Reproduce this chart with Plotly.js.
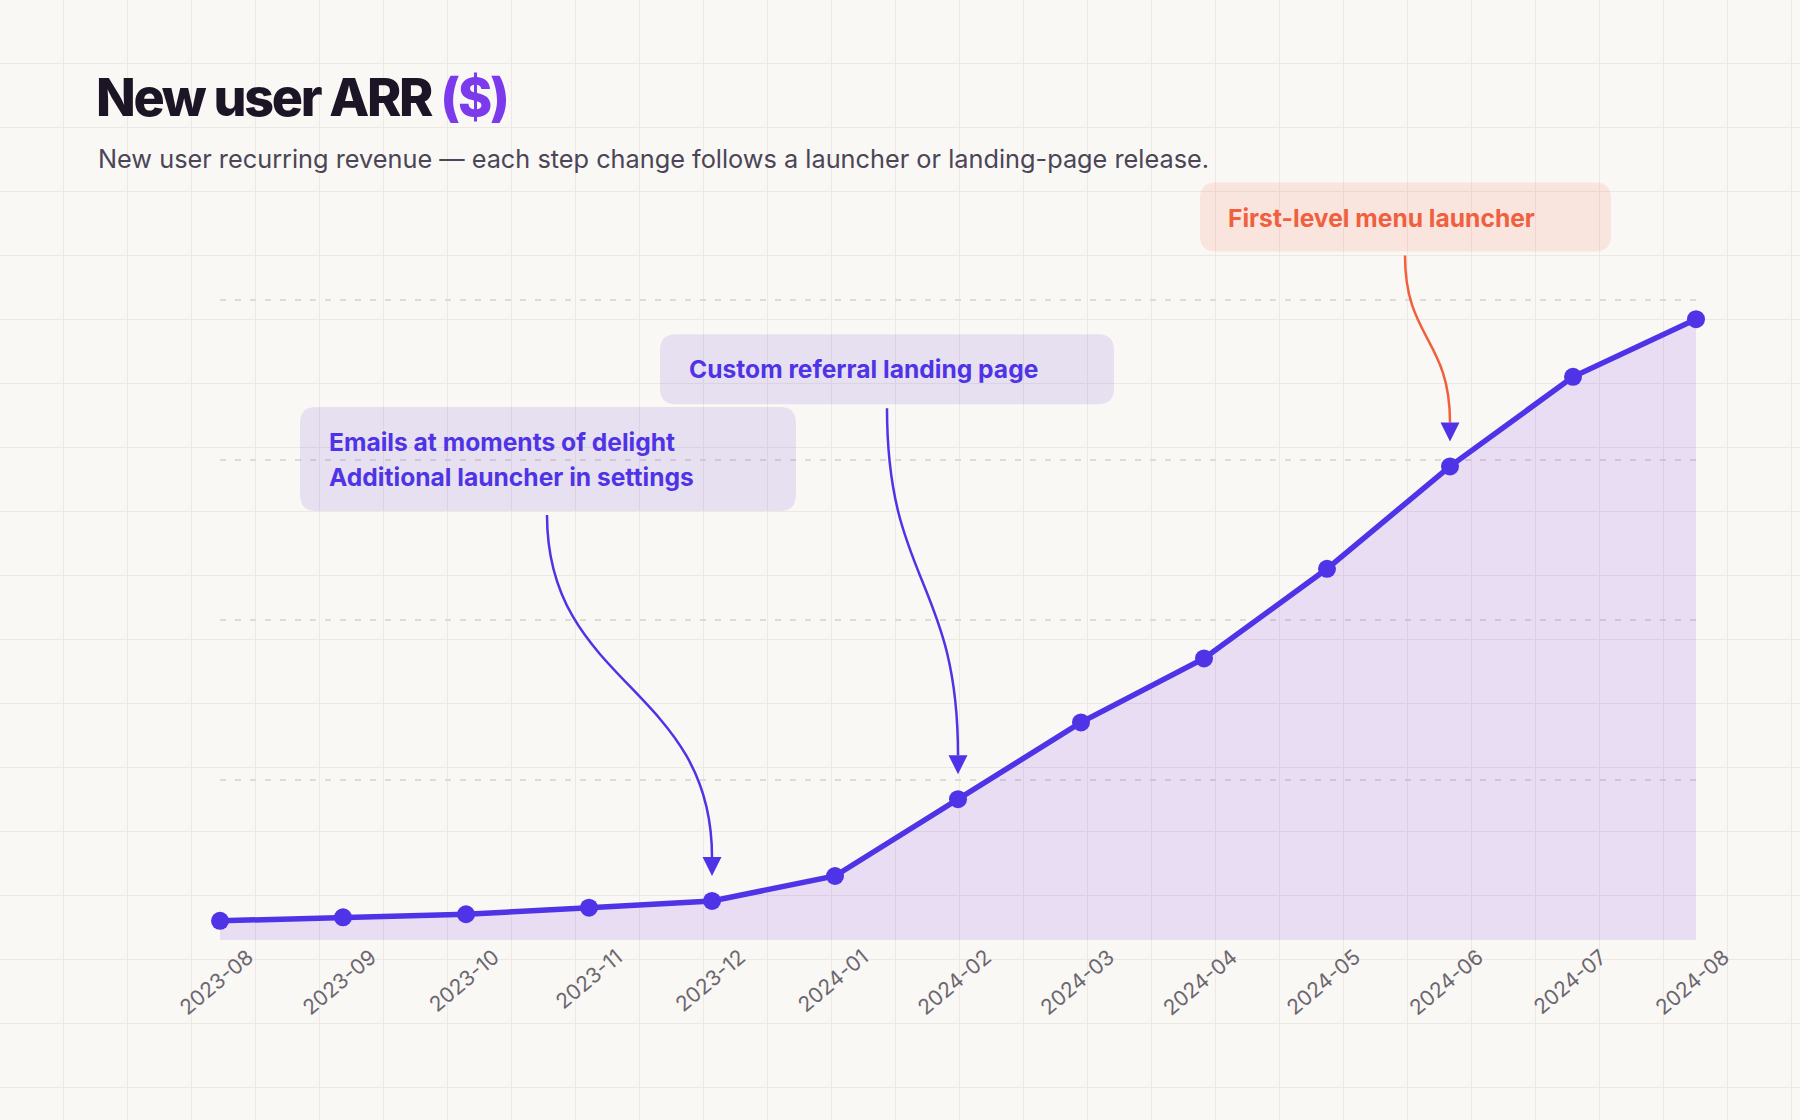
<!DOCTYPE html>
<html>
<head>
<meta charset="utf-8">
<script src="https://cdn.plot.ly/plotly-3.0.1.min.js"></script>
<style>
    html, body { margin: 0; padding: 0; }
    body {
        width: 1800px;
        height: 1120px;
        overflow: hidden;
        background-color: #faf8f4;
        background-image:
            linear-gradient(to right, transparent 63px, #ece8e3 63px),
            linear-gradient(to bottom, transparent 63px, #ece8e3 63px);
        background-size: 64px 64px;
    }
    #chart { width: 1800px; height: 1120px; }
</style>
</head>
<body>
<div id="chart"></div>
<script>
// monthly new user ARR ($)
const months = ['2023-08', '2023-09', '2023-10', '2023-11', '2023-12', '2024-01', '2024-02',
                '2024-03', '2024-04', '2024-05', '2024-06', '2024-07', '2024-08'];
const arr = [12000, 14200, 16100, 20200, 24400, 40000, 88000, 136000, 176000, 232000, 296000, 352000, 388000];

// release callouts: which month each points at, and its text
const calloutMonths = ['2023-12', '2024-02', '2024-06'];
const calloutLines = [
    ['Emails at moments of delight', 'Additional launcher in settings'],
    ['Custom referral landing page'],
    ['First-level menu launcher']
];

const INDIGO = '#4f33e6';
const CORAL = '#f0603f';

// geometry of each callout, in pixels relative to the target point (y up)
const calloutStyle = [
    { box: [-412, 84, 390, 494], textX: -385, lineY: [459, 424], start: [-165, 386],
      fill: 'rgba(95,60,225,0.12)', text: INDIGO, stroke: INDIGO },
    { box: [-298, 156, 395, 465], textX: -271, lineY: [430], start: [-71, 391],
      fill: 'rgba(95,60,225,0.12)', text: INDIGO, stroke: INDIGO },
    { box: [-250, 161, 215, 284], textX: -224, lineY: [248], start: [-45, 211],
      fill: 'rgba(245,100,70,0.13)', text: CORAL, stroke: CORAL }
];

function roundRect(x0, x1, yb, yt, r) {
    return `M ${x0 + r} ${yt} L ${x1 - r} ${yt} Q ${x1} ${yt} ${x1} ${yt - r} ` +
           `L ${x1} ${yb + r} Q ${x1} ${yb} ${x1 - r} ${yb} L ${x0 + r} ${yb} ` +
           `Q ${x0} ${yb} ${x0} ${yb + r} L ${x0} ${yt - r} Q ${x0} ${yt} ${x0 + r} ${yt} Z`;
}

function anchored(month, value, path, extra) {
    return Object.assign({
        type: 'path', xref: 'x', yref: 'y',
        xsizemode: 'pixel', ysizemode: 'pixel',
        xanchor: month, yanchor: value,
        path: path, layer: 'above'
    }, extra);
}

const shapes = [];
const annotations = [];

calloutMonths.forEach((month, i) => {
    const value = arr[months.indexOf(month)];
    const s = calloutStyle[i];
    const [bx0, bx1, byb, byt] = s.box;

    shapes.push(anchored(month, value, roundRect(bx0, bx1, byb, byt, 16),
        { fillcolor: s.fill, line: { width: 0 } }));

    // curved connector: leaves the box vertically, lands vertically above the point
    const [sx, sy] = s.start;
    const ey = 44;
    const my = (sy + ey) / 2;
    shapes.push(anchored(month, value, `M ${sx} ${sy} C ${sx} ${my} 0 ${my} 0 ${ey}`,
        { line: { color: s.stroke, width: 2.5 } }));
    shapes.push(anchored(month, value, 'M -9.5 44 L 9.5 44 L 0 25 Z',
        { fillcolor: INDIGO, line: { width: 0 } }));

    calloutLines[i].forEach((line, j) => {
        annotations.push({
            x: month, y: value, xref: 'x', yref: 'y',
            xanchor: 'left', yanchor: 'middle',
            xshift: s.textX, yshift: s.lineY[j],
            showarrow: false, text: line,
            font: { family: 'Inter', size: 24.6, weight: 700, color: s.text }
        });
    });
});

annotations.push({
    xref: 'paper', yref: 'paper', x: -0.084, y: 1.0143,
    xanchor: 'left', yanchor: 'middle', showarrow: false,
    text: 'New user recurring revenue — each step change follows a launcher or landing-page release.',
    font: { family: 'Inter', size: 25.3, color: '#4b4558' }
});

const data = [{
    type: 'scatter',
    mode: 'lines+markers',
    x: months,
    y: arr,
    line: { color: INDIGO, width: 5.5 },
    marker: { color: INDIGO, size: 18 },
    fill: 'tozeroy',
    fillcolor: 'rgba(124,58,237,0.14)',
    cliponaxis: false,
    hoverinfo: 'x+y'
}];

const layout = {
    width: 1800,
    height: 1120,
    margin: { l: 220, r: 104, t: 170, b: 180 },
    paper_bgcolor: 'rgba(0,0,0,0)',
    plot_bgcolor: 'rgba(0,0,0,0)',
    font: { family: 'Inter, sans-serif', color: '#6e6875' },
    showlegend: false,
    title: {
        text: '<span style="letter-spacing:-2.3px">New user ARR <span style="color:#7c3aed">($)</span></span>',
        font: { family: 'Inter', size: 52, weight: 800, color: '#1b1526' },
        xref: 'container', yref: 'container',
        x: 96 / 1800, xanchor: 'left',
        y: 1 - 98 / 1120, yanchor: 'middle'
    },
    xaxis: {
        type: 'category',
        range: [0, months.length - 1],
        showgrid: false,
        zeroline: false,
        showline: false,
        ticks: '',
        tickangle: -40,
        ticklabelshift: 28,
        tickfont: { family: 'Inter', size: 21, color: '#6b6670' }
    },
    yaxis: {
        range: [0, 481250],
        dtick: 100000,
        showticklabels: false,
        ticks: '',
        zeroline: false,
        showline: false,
        gridcolor: '#dedad6',
        gridwidth: 1.5,
        griddash: '6px,9px'
    },
    shapes: shapes,
    annotations: annotations
};

Plotly.newPlot('chart', data, layout, { displayModeBar: false, responsive: false });
</script>
</body>
</html>
